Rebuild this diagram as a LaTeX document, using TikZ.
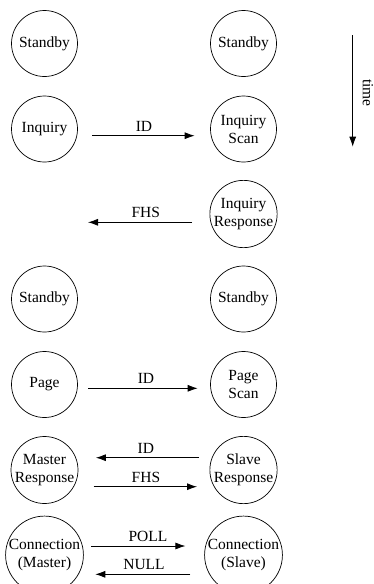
\documentclass[tikz,border=0pt]{standalone}
\usepackage{fontspec}
\setmainfont{Liberation Serif}
\usetikzlibrary{arrows.meta}
\begin{document}
\begin{tikzpicture}[x=1pt,y=-1pt,
  state/.style={circle,draw,line width=0.7pt,minimum size=66pt,inner sep=0pt,align=center,
    font=\fontsize{15.5}{18}\selectfont},
  msg/.style={line width=0.8pt,-{Latex[length=10pt,width=7pt]}},
  lbl/.style={inner sep=0pt,above=4pt,font=\fontsize{15.5}{18}\selectfont}]
\clip (0,0) rectangle (374,584);
% left column
\node[state] (ls1) at (44.5,43.5) {Standby};
\node[state] (linq) at (44.5,129) {Inquiry};
\node[state] (ls2) at (44.5,299) {Standby};
\node[state] (lpage) at (44.5,384.5) {Page};
\node[state] (lmr) at (44.5,470) {Master\\Response};
\node[state] (lcon) at (44.5,555) {Connection\\(Master)};
% right column
\node[state] (rs1) at (243.5,43.5) {Standby};
\node[state] (rinqs) at (243.5,129) {Inquiry\\Scan};
\node[state] (rinqr) at (243.5,214) {Inquiry\\Response};
\node[state] (rs2) at (243.5,299) {Standby};
\node[state] (rps) at (243.5,384.5) {Page\\Scan};
\node[state] (rsr) at (243.5,470) {Slave\\Response};
\node[state] (rcon) at (243.5,555) {Connection\\(Slave)};
% messages
\draw[msg,shorten <=14.2pt,shorten >=15.5pt] ([yshift=-6.7pt]linq.east) -- node[lbl]{ID} ([yshift=-6.7pt]rinqs.west);
\coordinate (fhsend) at (88,222.3);
\draw[msg,shorten <=17.5pt] ([yshift=-8.3pt]rinqr.west) -- node[lbl,xshift=-3pt]{FHS} (fhsend);
\draw[msg,shorten <=10.5pt,shorten >=12.5pt] ([yshift=-3.8pt]lpage.east) -- node[lbl,xshift=2pt]{ID} ([yshift=-3.8pt]rps.west);
\draw[msg,shorten <=10.5pt,shorten >=17.5pt] ([yshift=12.3pt]rsr.west) -- node[lbl,xshift=2pt]{ID} ([yshift=12.3pt]lmr.east);
\draw[msg,shorten <=15.2pt,shorten >=12.5pt] ([yshift=-16.7pt]lmr.east) -- node[lbl,xshift=2pt]{FHS} ([yshift=-16.7pt]rsr.west);
\draw[msg,shorten <=7.5pt,shorten >=18.8pt] ([yshift=9pt]lcon.east) -- node[lbl,xshift=4pt]{POLL} ([yshift=9pt]rcon.west);
\draw[msg,shorten <=13.8pt,shorten >=11.5pt] ([yshift=-19.3pt]rcon.west) -- node[lbl]{NULL} ([yshift=-19.3pt]lcon.east);
% time arrow
\coordinate (t0) at (352.7,35);
\coordinate (t1) at (352.7,146.7);
\draw[msg] (t0) -- (t1);
\node[rotate=-90,inner sep=0pt,font=\fontsize{15.5}{18}\selectfont] (tlbl) at (368,93) {time};
\end{tikzpicture}
\end{document}
